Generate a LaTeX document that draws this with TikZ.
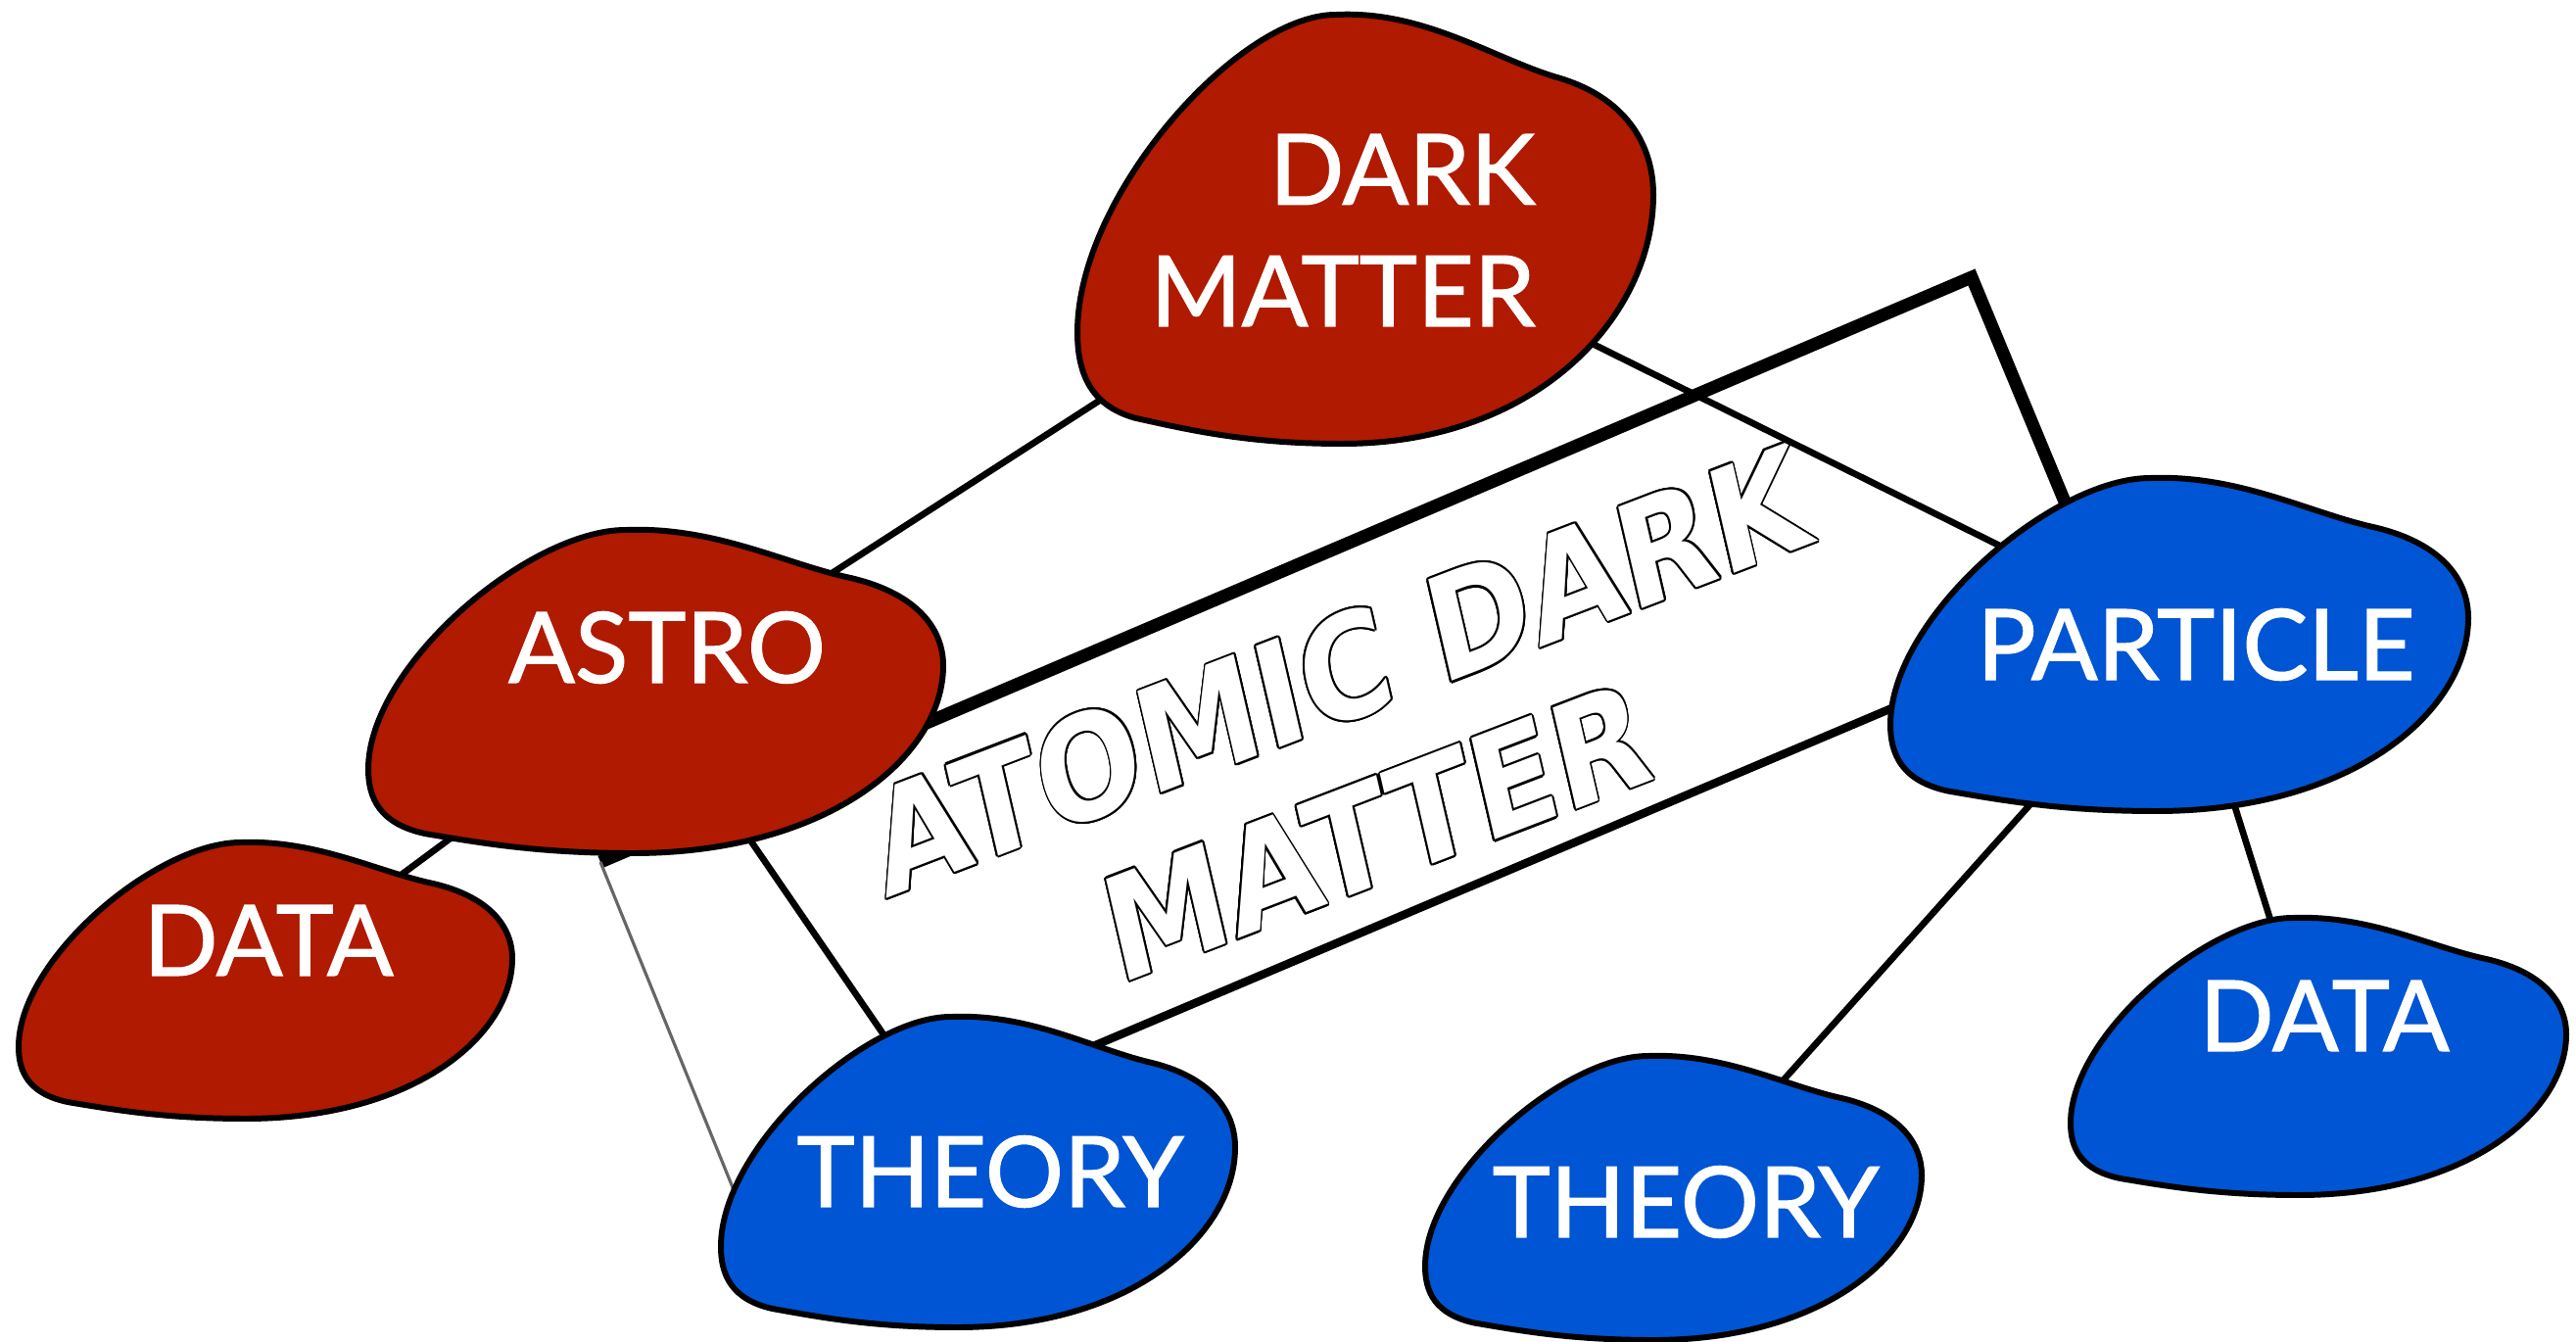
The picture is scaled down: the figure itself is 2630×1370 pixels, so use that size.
\documentclass[tikz,border=0pt]{standalone}
\usepackage{fontspec}
\usepackage{contour}
\newfontfamily\labelfont[FakeBold=1.2]{Lato}
\newfontfamily\handfont{DejaVu Sans}
\definecolor{blobred}{RGB}{176,26,0}
\definecolor{blobblue}{RGB}{0,85,212}
\contourlength{0.6pt}
\contournumber{16}
\begin{document}
\begin{tikzpicture}[
    x=0.01cm, y=-0.01cm,
    blob/.style={draw=black, line width=1.7pt, line join=round},
    blobtext/.style={font=\labelfont\fontsize{28.5}{35.3}\selectfont, text=white, inner sep=0pt},
    linkline/.style={draw=black, line width=1.9pt},
  ]
  \useasboundingbox (0,0) rectangle (2630,1370);
  % hubs where the links meet
  \coordinate (dm) at (1392,235);
  \coordinate (astro) at (662,706);
  \coordinate (dataL) at (268,998);
  \coordinate (theoryL) at (1000,1199);
  \coordinate (particle) at (2227,649);
  \coordinate (theoryM) at (1704,1233);
  \coordinate (dataR) at (2360,1073);
  % tilted card behind everything
  \coordinate (tl) at (613,880);
  \coordinate (tr) at (2013,283);
  \coordinate (br) at (2156,628);
  \coordinate (bl) at (752,1222);
  \fill[white] (tl) -- (tr) -- (br) -- (bl) -- cycle;
  \draw[line width=3.7pt, line join=miter] (tl) -- (tr) -- (br);
  \draw[line width=2.4pt] (br) -- (bl);
  \draw[black!60, line width=0.9pt] (bl) -- (tl);
  \node[font=\handfont\bfseries\fontsize{41}{47.5}\selectfont, text=white, rotate=21, xslant=0.14, xscale=0.9,
        align=center, inner sep=0pt]
    (atomic) at (1386,766) {\contour{black}{ATOMIC DARK}\\\contour{black}{MATTER}};
  % links
  \foreach \a/\b in {dm/astro, dm/particle, astro/dataL, astro/theoryL, particle/theoryM, particle/dataR}
    \draw[linkline] (\a) -- (\b);
  % blobs: corner x/y, width, height, fill
  \foreach \x/\y/\w/\h/\col in {
      1100/15/588/438/blobred, 376/541/587/330/blobred, 19/860/504/282/blobred,
      1930/488/590/340/blobblue, 736/1038/525/317/blobblue,
      1455/1078/507/290/blobblue, 2114/937/506/283/blobblue}
    \draw[blob, fill=\col, shift={(\x,\y)}, xscale=\w, yscale=\h]
      (0.45,0) .. controls (0.6,-0.01) and (0.72,0.1) .. (0.83,0.145)
      .. controls (0.95,0.19) and (1,0.3) .. (1,0.42)
      .. controls (1,0.7) and (0.8,1) .. (0.46,1)
      .. controls (0.3,1) and (0.2,0.97) .. (0.1,0.94)
      .. controls (0.02,0.91) and (0,0.83) .. (0,0.74)
      .. controls (0,0.42) and (0.28,0) .. cycle;
  % labels
  \node[blobtext, align=right] (dmText) at (1371,235) {DARK\\MATTER};
  \node[blobtext] (astroText) at (681,661) {ASTRO};
  \node[blobtext] (dataLText) at (274,960) {DATA};
  \node[blobtext] (particleText) at (2242,658) {PARTICLE};
  \node[blobtext] (theoryLText) at (1011,1196) {THEORY};
  \node[blobtext] (theoryMText) at (1721,1227) {THEORY};
  \node[blobtext] (dataRText) at (2373,1037) {DATA};
\end{tikzpicture}
\end{document}
